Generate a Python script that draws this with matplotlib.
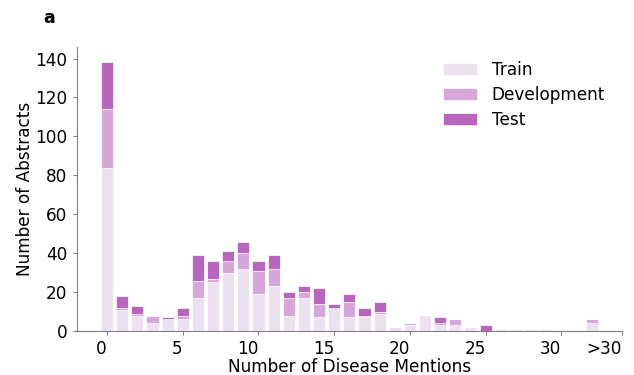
import matplotlib.pyplot as plt
import numpy as np

plt.rcParams['font.family'] = ['DejaVu Sans']

# abstracts per number of disease mentions (last bin is ">30")
mentions = list(range(31)) + [32]
train = [84, 11, 8, 4, 6, 6, 17, 25, 30, 32, 19, 23, 8, 17, 7, 12, 7, 7, 9, 2,
         3, 7, 3, 3, 2, 0, 1, 1, 1, 1, 0, 4]
dev = [30, 1, 1, 4, 0, 2, 9, 2, 6, 8, 12, 9, 9, 3, 7, 0, 8, 1, 1, 0,
       1, 0, 1, 3, 0, 0, 0, 0, 0, 0, 0, 2]
test = [24, 6, 4, 0, 1, 4, 13, 9, 5, 6, 5, 7, 3, 3, 8, 2, 4, 4, 5, 0,
        0, 1, 3, 0, 0, 3, 0, 0, 0, 0, 0, 0]
tick_pos = [0, 5, 10, 15, 20, 25, 30, 34]
tick_labels = ['0', '5', '10', '15', '20', '25', '30', '>30']

colors = {'Train': '#ece1ef', 'Development': '#d8a7da', 'Test': '#b865bd'}
fs = 12.2

fig = plt.figure(figsize=(6.34, 3.75), dpi=100)
ax = fig.add_axes([0.121, 0.117, 0.86, 0.758])

x = np.array(mentions)
tr = np.array(train)
dv = np.array(dev)
ts = np.array(test)
kw = dict(width=0.8, edgecolor='white', linewidth=0.5)
ax.bar(x, tr, color=colors['Train'], label='Train', **kw)
ax.bar(x, dv, bottom=tr, color=colors['Development'], label='Development', **kw)
ax.bar(x, ts, bottom=tr + dv, color=colors['Test'], label='Test', **kw)

ax.set_xlim(-2, 34)
ax.set_ylim(0, 146)
ax.set_xticks(tick_pos)
ax.set_xticklabels(tick_labels, ha='right')
ax.set_yticks(range(0, 141, 20))

for side in ['top', 'right']:
    ax.spines[side].set_visible(False)
for side in ['left', 'bottom']:
    ax.spines[side].set_color('#808080')
ax.tick_params(colors='#808080', labelcolor='black', labelsize=fs, length=3)

ax.set_xlabel('Number of Disease Mentions', fontsize=fs, labelpad=0)
ax.set_ylabel('Number of Abstracts', fontsize=fs, labelpad=1)

ax.legend(frameon=False, fontsize=fs, handlelength=2.0, handletextpad=0.85,
          labelspacing=0.42, loc='upper right', bbox_to_anchor=(0.997, 1.005))

fig.text(0.068, 0.952, 'a', fontsize=12.5, fontweight='bold', va='center')

fig.savefig('out.png', dpi=100)
